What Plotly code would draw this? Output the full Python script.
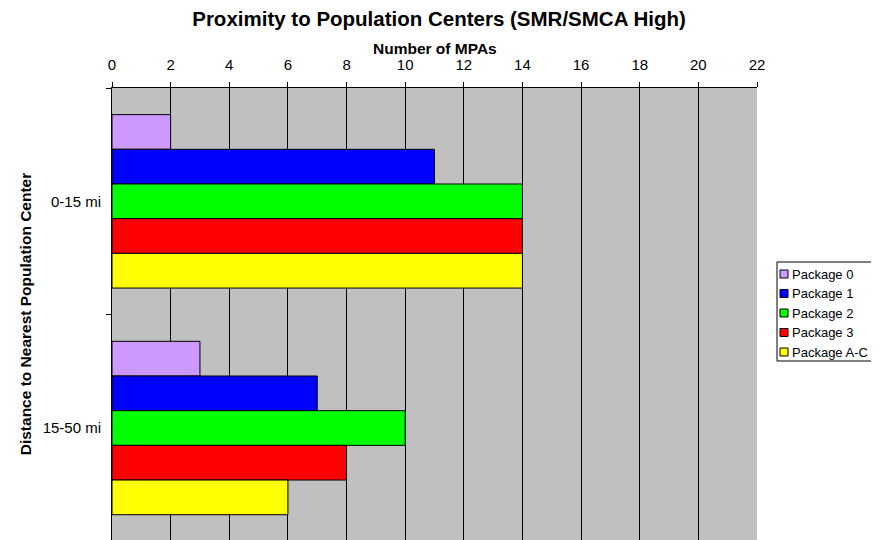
import plotly.graph_objects as go

categories = ["0-15 mi", "15-50 mi"]
series_names = ["Package 0", "Package 1", "Package 2", "Package 3", "Package A-C"]
series_values = [
    [2, 3],
    [11, 7],
    [14, 10],
    [14, 8],
    [14, 6],
]
series_colors = ["#CC99FF", "#0000FF", "#00FF00", "#FF0000", "#FFFF00"]
x_ticks = list(range(0, 23, 2))

FONT = "Arial, Liberation Sans, sans-serif"

OFF = 8  # page body margin offset
W, H = 879 - OFF, 540 - OFF
ML, MT, MB = 112 - OFF, 88 - OFF, 0
PW = 645
MR = W - ML - PW
PH = H - MT - MB


def px_x(p):
    return (p - OFF - ML) / PW


def px_y(p):
    return (H - MB - (p - OFF)) / PH


fig = go.Figure()
for name, vals, col in zip(series_names, series_values, series_colors):
    fig.add_trace(go.Bar(
        y=categories, x=vals, name=name, orientation="h",
        marker=dict(color=col, line=dict(color="black", width=1)),
        showlegend=False,
    ))

# legend (drawn as a compact box like the original)
shapes = [dict(type="rect", xref="paper", yref="paper",
               x0=px_x(777), x1=px_x(874), y0=px_y(361), y1=px_y(262),
               line=dict(color="black", width=1), fillcolor="white", layer="above")]
annotations = []
for i, (name, col) in enumerate(zip(series_names, series_colors)):
    cy = 274 + i * 19.5
    shapes.append(dict(type="rect", xref="paper", yref="paper",
                       x0=px_x(780), x1=px_x(788), y0=px_y(cy + 4), y1=px_y(cy - 4),
                       line=dict(color="black", width=1), fillcolor=col, layer="above"))
    annotations.append(dict(text=name, xref="paper", yref="paper",
                            x=px_x(790), y=px_y(cy), xanchor="left", yanchor="middle",
                            showarrow=False,
                            font=dict(family=FONT, size=13, color="black")))

# x-axis title (placed above the top tick labels)
annotations.append(dict(text="<b>Number of MPAs</b>", xref="paper", yref="paper",
                        x=0.5, y=px_y(49), xanchor="center", yanchor="middle",
                        showarrow=False,
                        font=dict(family=FONT, size=15.5, color="black")))

fig.update_layout(
    width=W, height=H,
    margin=dict(l=ML, r=MR, t=MT, b=MB, pad=0, autoexpand=False),
    paper_bgcolor="white",
    plot_bgcolor="#C0C0C0",
    barmode="group",
    bargap=0.235,
    bargroupgap=0,
    showlegend=False,
    font=dict(family=FONT, color="black", size=15),
    title=dict(
        text="<b>Proximity to Population Centers (SMR/SMCA High)</b>",
        x=px_x(439), xref="paper", xanchor="center",
        y=1 - (19 - OFF) / H, yref="container", yanchor="middle",
        font=dict(family=FONT, size=20.5, color="black"),
    ),
    shapes=shapes,
    annotations=annotations,
    xaxis=dict(
        side="top",
        range=[0, 22],
        tickvals=x_ticks,
        ticktext=[str(v) for v in x_ticks],
        ticks="outside", ticklen=5, tickcolor="black",
        showline=True, linecolor="black", linewidth=1,
        showgrid=True, gridcolor="black", gridwidth=1,
        zeroline=False,
        automargin=False,
        ticklabelstandoff=6,
        tickfont=dict(family=FONT, size=15, color="black"),
    ),
    yaxis=dict(
        type="category",
        categoryorder="array", categoryarray=categories,
        range=[1.494, -0.5],
        tickson="boundaries",
        ticks="outside", ticklen=5, tickcolor="black",
        showline=True, linecolor="black", linewidth=1,
        showgrid=False,
        zeroline=False,
        automargin=False,
        tickfont=dict(family=FONT, size=15, color="black"),
        ticklabelstandoff=7,
        title=dict(text="<b>Distance to Nearest Population Center</b>", standoff=7,
                   font=dict(family=FONT, size=15.5, color="black")),
    ),
)

fig.write_html("out.html")
